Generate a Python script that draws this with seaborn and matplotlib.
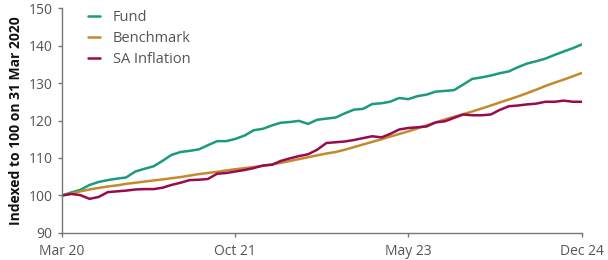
import matplotlib
matplotlib.use("Agg")
import matplotlib.pyplot as plt
import seaborn as sns
import pandas as pd

months = pd.date_range("2020-03-01", "2024-12-01", freq="MS")

fund = [100, 100.8, 101.5, 102.8, 103.6, 104.1, 104.5, 104.8, 106.4, 107.1,
        107.8, 109.3, 110.8, 111.6, 111.9, 112.3, 113.4, 114.5, 114.5, 115.1,
        116.0, 117.4, 117.8, 118.7, 119.4, 119.6, 119.9, 119.1, 120.2, 120.5,
        120.8, 121.9, 122.9, 123.1, 124.4, 124.6, 125.0, 126.0, 125.7, 126.5,
        126.9, 127.7, 127.9, 128.1, 129.6, 131.1, 131.5, 132.0, 132.6, 133.1,
        134.2, 135.2, 135.8, 136.5, 137.5, 138.4, 139.3, 140.3]
benchmark = [100, 100.5, 101.1, 101.6, 102.0, 102.4, 102.7, 103.1, 103.4, 103.7,
             104.0, 104.3, 104.6, 104.9, 105.3, 105.7, 106.0, 106.3, 106.7, 107.0,
             107.3, 107.6, 107.9, 108.3, 108.7, 109.2, 109.7, 110.2, 110.7, 111.2,
             111.6, 112.2, 112.9, 113.6, 114.3, 115.0, 115.7, 116.4, 117.1, 117.9,
             118.7, 119.5, 120.3, 121.0, 121.7, 122.4, 123.2, 124.0, 124.8, 125.6,
             126.4, 127.3, 128.2, 129.2, 130.1, 130.9, 131.8, 132.7]
sa_inflation = [100, 100.4, 100.1, 99.1, 99.6, 100.9, 101.1, 101.3, 101.6, 101.7,
                101.7, 102.1, 102.8, 103.4, 104.1, 104.2, 104.4, 105.8, 106.0, 106.4,
                106.8, 107.3, 108.0, 108.2, 109.2, 109.9, 110.5, 111.0, 112.2, 114.0,
                114.2, 114.4, 114.8, 115.3, 115.8, 115.5, 116.4, 117.6, 118.0, 118.2,
                118.4, 119.5, 119.8, 120.7, 121.6, 121.4, 121.4, 121.6, 122.8, 123.8,
                124.0, 124.3, 124.5, 125.0, 125.0, 125.3, 125.0, 125.0]

tick_dates = ["2020-03-01", "2021-10-01", "2023-05-01", "2024-12-01"]
tick_labels = ["Mar 20", "Oct 21", "May 23", "Dec 24"]

df = pd.DataFrame({"Fund": fund, "Benchmark": benchmark, "SA Inflation": sa_inflation},
                  index=months)
long_df = df.reset_index(names="date").melt(id_vars="date", var_name="series", value_name="value")

sns.set_style("white")
plt.rcParams["font.family"] = ["Open Sans", "DejaVu Sans"]

fig = plt.figure(figsize=(6.08, 2.6), dpi=100)
ax = fig.add_axes([0.102, 0.104, 0.855, 0.865])

palette = {"Fund": "#1b9a7c", "Benchmark": "#c28a2c", "SA Inflation": "#980a4e"}
sns.lineplot(data=long_df, x="date", y="value", hue="series", palette=palette,
             linewidth=1.8, ax=ax)

ax.set_ylim(90, 150)
ax.set_yticks(range(90, 151, 10))
ax.set_xlim(months[0], months[-1])
ax.set_xticks(pd.to_datetime(tick_dates))
ax.set_xticklabels(tick_labels)
ax.set_xlabel("")
ax.set_ylabel("Indexed to 100 on 31 Mar 2020", fontsize=10, fontweight="bold",
              color="#111111", labelpad=4)

for s in ["top", "right"]:
    ax.spines[s].set_visible(False)
for s in ["left", "bottom"]:
    ax.spines[s].set_color("#777777")
    ax.spines[s].set_linewidth(1)
ax.tick_params(axis="both", length=3, width=1, color="#777777", labelsize=10,
               labelcolor="#555555", direction="out", bottom=True, left=True)
ax.tick_params(axis="x", pad=5)
ax.tick_params(axis="y", pad=4)

leg = ax.legend(loc="upper left", bbox_to_anchor=(0.025, 1.05), frameon=False,
                fontsize=10.5, handlelength=0.8, handletextpad=0.9, labelspacing=0.4)
for t in leg.get_texts():
    t.set_color("#555555")

fig.savefig("out.png", dpi=100)
